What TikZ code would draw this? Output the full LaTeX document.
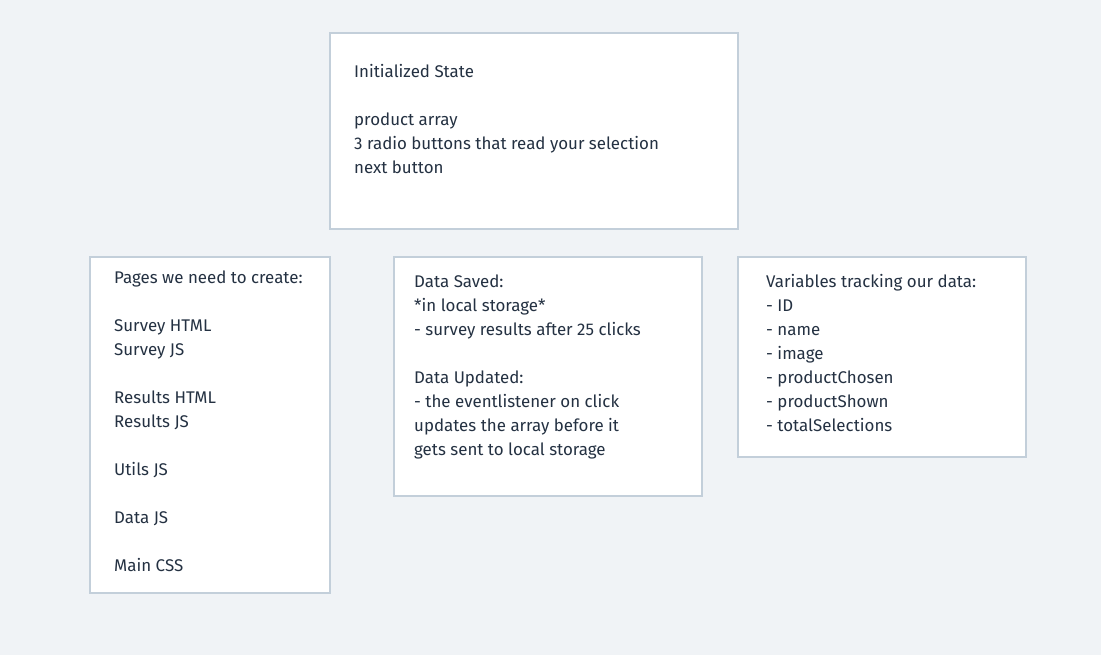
\documentclass[tikz,border=0pt]{standalone}
\usepackage{fontspec}
\setmainfont{Fira Sans}
\definecolor{bg}{HTML}{F0F3F6}
\definecolor{edge}{HTML}{C3CFDA}
\definecolor{ink}{HTML}{243142}
\begin{document}
\begin{tikzpicture}[x=1pt,y=-1pt,
  card/.style={draw=edge,line width=2pt,fill=white},
  txt/.style={anchor=north west,align=left,inner sep=0pt,text=ink,font=\fontsize{16.9}{24}\selectfont}]
\fill[bg] (0,0) rectangle (1101,655);
\useasboundingbox (0,0) rectangle (1101,655);
\draw[card] (330,33) rectangle (738,229);
\draw[card] (90,257) rectangle (330,593);
\draw[card] (394,257) rectangle (702,496);
\draw[card] (738,257) rectangle (1026,457);
\node[txt] (t1) at (354,64.5) {Initialized State\\[24pt]product array\\3 radio buttons that read your selection\\next button};
\node[txt] (t2) at (114,270.5) {Pages we need to create:\\[24pt]Survey HTML\\Survey JS\\[24pt]Results HTML\\Results JS\\[24pt]Utils JS\\[24pt]Data JS\\[24pt]Main CSS};
\node[txt] (t3) at (414,274.5) {Data Saved:\\*in local storage*\\- survey results after 25 clicks\\[24pt]Data Updated:\\- the eventlistener on click\\updates the array before it\\gets sent to local storage};
\node[txt] (t4) at (766,274.5) {Variables tracking our data:\\- ID\\- name\\- image\\- productChosen\\- productShown\\- totalSelections};
\end{tikzpicture}
\end{document}
